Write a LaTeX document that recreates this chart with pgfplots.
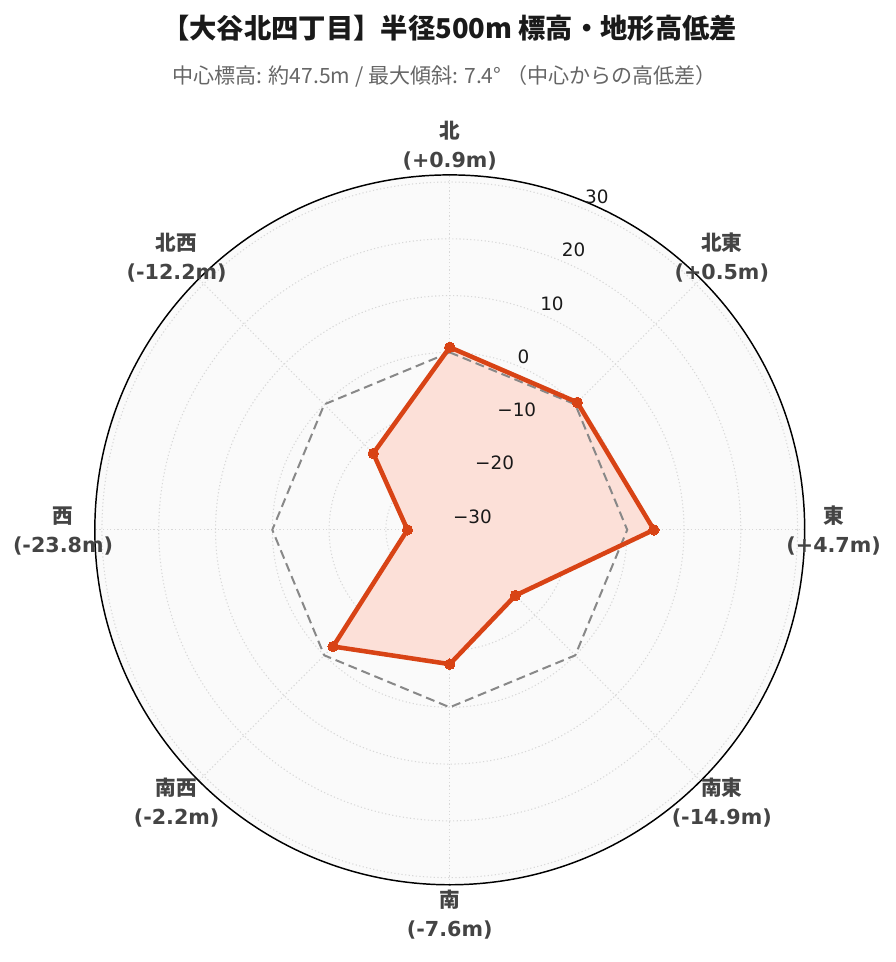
\documentclass[border=0pt]{standalone}
\usepackage{pgfplots}
\pgfplotsset{compat=1.18}
\usepackage{pgfplotstable}
\usepackage{fontspec}
\setmainfont{DejaVu Sans}
\newfontfamily\cjk{Noto Sans CJK JP}
\definecolor{lineC}{HTML}{D84315}
\definecolor{fillC}{RGB}{252,224,216}
\definecolor{bgC}{HTML}{FAFAFA}
\definecolor{gridC}{HTML}{D8D8D8}
\definecolor{refC}{HTML}{888888}
\definecolor{labC}{HTML}{444444}
\definecolor{subC}{HTML}{666666}
\definecolor{titC}{HTML}{1A1A1A}

\pgfplotstableread{
ang val
0 0.9
45 0.5
90 4.7
135 -14.9
180 -7.6
225 -2.2
270 -23.8
315 -12.2
360 0.9
}\terrain

\pgfplotstableread{
ang val
0 0
45 0
90 0
135 0
180 0
225 0
270 0
315 0
360 0
}\zeroline

\begin{document}
\begin{tikzpicture}
\begin{axis}[hide axis, scale only axis, width=532.5pt, height=532.5pt,
  xmin=-62.5, xmax=62.5, ymin=-62.5, ymax=62.5, clip=false,
  anchor=center, at={(0,0)}]
\path (axis cs:-79.2,-76.1) rectangle (axis cs:78.5,93.3);
\fill[bgC] (axis cs:0,0) circle [radius=62.5];
\pgfplotsinvokeforeach{-30,-20,-10,0,10,20,30}{
  \draw[gridC, line width=0.8pt, dash pattern=on 0.9pt off 1.8pt] (axis cs:0,0) circle [radius={#1+31.25}];
}
\pgfplotsinvokeforeach{0,45,90,135,180,225,270,315}{
  \draw[gridC, line width=0.8pt, dash pattern=on 0.9pt off 1.8pt] (axis cs:0,0) -- (axis cs:{62.5*sin(#1)},{62.5*cos(#1)});
}
\draw[black, line width=1.1pt] (axis cs:0,0) circle [radius=62.5];

\addplot[draw=none, fill=fillC] table[x expr={(\thisrow{val}+31.25)*sin(\thisrow{ang})}, y expr={(\thisrow{val}+31.25)*cos(\thisrow{ang})}] {\terrain};
\addplot[refC, line width=1.5pt, dash pattern=on 6.75pt off 3.75pt, mark=none] table[x expr={(\thisrow{val}+31.25)*sin(\thisrow{ang})}, y expr={(\thisrow{val}+31.25)*cos(\thisrow{ang})}] {\zeroline};
\addplot[lineC, line width=3.4pt, line join=round, mark=*, mark size=3.9pt, mark options={fill=lineC, draw=lineC, line width=0pt}] table[x expr={(\thisrow{val}+31.25)*sin(\thisrow{ang})}, y expr={(\thisrow{val}+31.25)*cos(\thisrow{ang})}] {\terrain};

% radial tick labels
\begin{scope}[every node/.style={font=\fontsize{13.8}{16}\selectfont, text=black!90}]
\node at (axis cs:25.9,58.6) {30};
\node at (axis cs:21.8,49.3) {20};
\node at (axis cs:18.0,39.8) {10};
\node at (axis cs:13.0,30.5) {0};
\node at (axis cs:11.8,21.1) {−10};
\node at (axis cs:7.9,11.8) {−20};
\node at (axis cs:4.0,2.3) {−30};
\end{scope}

% direction labels
\begin{scope}[every node/.style={align=center, text=labC, font=\fontsize{15.5}{21.75}\selectfont\bfseries}]
\node at (axis cs:0,67.6) {{\cjk\bfseries 北}\\(+0.9m)};
\node at (axis cs:47.9,47.9) {{\cjk\bfseries 北東}\\(+0.5m)};
\node at (axis cs:67.6,-0.2) {{\cjk\bfseries 東}\\(+4.7m)};
\node at (axis cs:47.9,-48.1) {{\cjk\bfseries 南東}\\(-14.9m)};
\node at (axis cs:0,-67.8) {{\cjk\bfseries 南}\\(-7.6m)};
\node at (axis cs:-48.1,-48.1) {{\cjk\bfseries 南西}\\(-2.2m)};
\node at (axis cs:-68.1,-0.2) {{\cjk\bfseries 西}\\(-23.8m)};
\node at (axis cs:-48.1,47.9) {{\cjk\bfseries 北西}\\(-12.2m)};
\end{scope}

\node[text=titC, font=\cjk\bfseries\fontsize{20.5}{24}\selectfont] at (axis cs:0,88.4) {【大谷北四丁目】半径500m 標高・地形高低差};
\node[text=subC, font=\cjk\fontsize{15.8}{18}\selectfont] at (axis cs:-0.9,79.8) {中心標高: 約47.5m / 最大傾斜: 7.4° （中心からの高低差）};
\end{axis}
\end{tikzpicture}
\end{document}
